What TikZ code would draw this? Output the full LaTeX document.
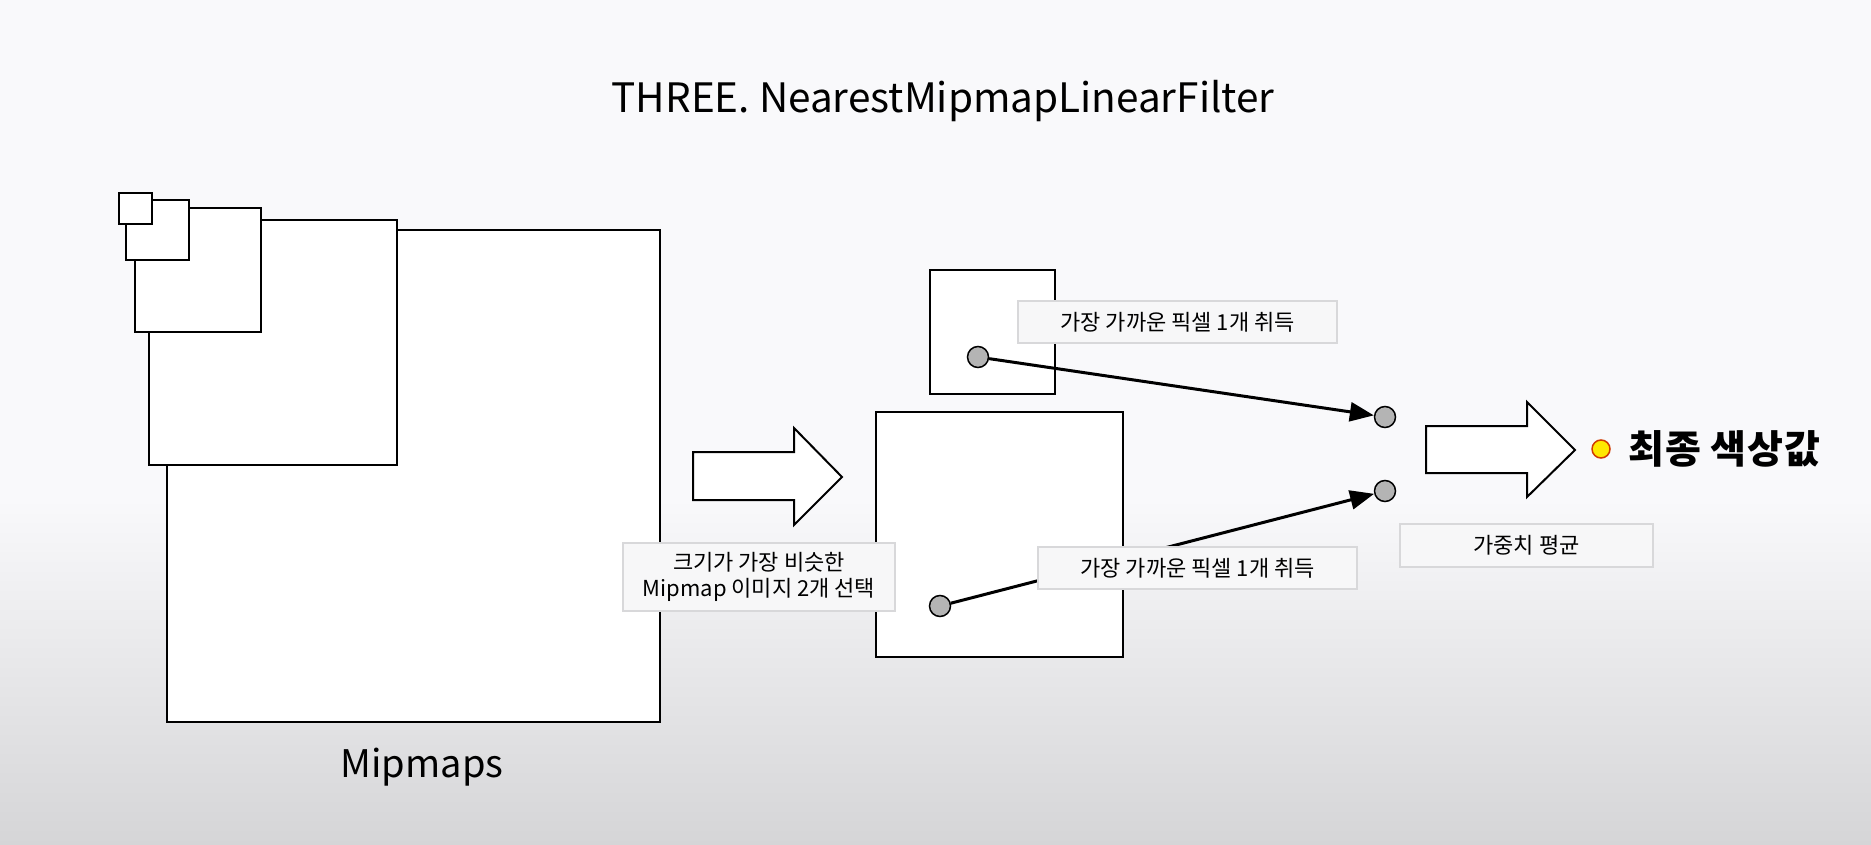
\documentclass[tikz,border=0pt]{standalone}
\usepackage{fontspec}
\setmainfont{Noto Sans CJK KR}
\usetikzlibrary{arrows.meta}
\definecolor{bgtop}{HTML}{F9F9FB}
\definecolor{bgbot}{HTML}{D5D5D7}
\definecolor{lblfill}{HTML}{F7F7F8}
\definecolor{lblline}{HTML}{D8D8DA}
\definecolor{pixfill}{HTML}{B4B4B4}
\definecolor{finalfill}{HTML}{FFE800}
\definecolor{finalline}{HTML}{D03A00}
\tikzset{
  mip/.style={draw=black, line width=2.8pt},
  lbl/.style={draw=lblline, fill=lblfill, line width=1.5pt, font=\fontsize{22}{26}\selectfont, align=center, inner sep=0pt},
  pix/.style={circle, draw=black, fill=pixfill, line width=1.5pt, minimum size=21pt, inner sep=0pt},
  conn/.style={line width=3pt, -{Triangle[length=24pt,width=19pt]}},
  bigarrow/.style={draw=black, line width=2pt, fill=white, line join=miter}
}
\begin{document}
\begin{tikzpicture}[x=1pt,y=-1pt]
  % background
  \useasboundingbox (0,0) rectangle (1871,845);
  \fill[bgtop] (0,0) rectangle (1871,500);
  \shade[top color=bgtop, bottom color=bgbot] (0,499) rectangle (1871,845);

  % title
  \node[anchor=base, font=\fontsize{40.5}{48}\selectfont] (title) at (943,113) {THREE. NearestMipmapLinearFilter};

  % mipmap chain (largest first)
  \draw[mip, fill=white] (167,230) rectangle (660,722);
  \draw[mip, fill=white] (149,220) rectangle (397,465);
  \draw[mip, fill=white] (135,208) rectangle (261,332);
  \draw[mip, fill=white] (126,200) rectangle (189,260);
  \draw[mip, fill=white] (119,193) rectangle (152,224);
  \node[anchor=base, font=\fontsize{38}{46}\selectfont] (mipmaps) at (422,777) {Mipmaps};

  % big arrow 1
  \draw[bigarrow] (693,452) -- (794,452) -- (794,428) -- (842,477) -- (794,525) -- (794,500) -- (693,500) -- cycle;

  % selected mipmaps
  \draw[mip, fill=white] (930,270) rectangle (1055,394);
  \draw[mip, fill=white] (876,412) rectangle (1123,657);

  % pixels
  \node[pix] (d1) at (978,357) {};
  \node[pix] (d2) at (940,606) {};
  \node[pix] (t1) at (1385,417) {};
  \node[pix] (t2) at (1385,491) {};
  \draw[conn] (d1) -- (t1);
  \draw[conn] (d2) -- (t2);

  % big arrow 2
  \draw[bigarrow] (1426,426) -- (1527,426) -- (1527,402) -- (1575,450) -- (1527,497) -- (1527,473) -- (1426,473) -- cycle;

  % final colour
  \node[circle, draw=finalline, fill=finalfill, line width=1.5pt, minimum size=18pt, inner sep=0pt] (final) at (1601,449) {};
  \node[anchor=west, font=\fontsize{39}{46}\selectfont\bfseries\addfontfeatures{LetterSpace=2.5}, inner sep=0pt] (finaltxt) at (1628,449) {최종 색상값};

  % labels
  \node[lbl, minimum width=319pt, minimum height=42pt] (l1) at (1177.5,322) {가장 가까운 픽셀 1개 취득};
  \node[lbl, minimum width=319pt, minimum height=42pt] (l2) at (1197.5,568) {가장 가까운 픽셀 1개 취득};
  \node[lbl, minimum width=272pt, minimum height=68pt] (l3) at (759,577) {크기가 가장 비슷한\\Mipmap 이미지 2개 선택};
  \node[lbl, minimum width=253pt, minimum height=43pt] (l4) at (1526.5,545.5) {가중치 평균};
\end{tikzpicture}
\end{document}
